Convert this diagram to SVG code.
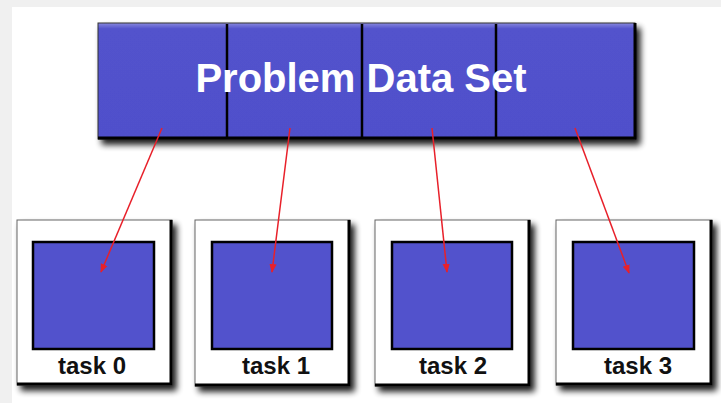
<svg xmlns="http://www.w3.org/2000/svg" width="721" height="403" viewBox="0 0 721 403">
<defs>
  <filter id="sh" x="-10%" y="-10%" width="130%" height="130%">
    <feGaussianBlur in="SourceAlpha" stdDeviation="3"/>
    <feOffset dx="4" dy="5" result="b"/>
    <feComponentTransfer><feFuncA type="linear" slope="0.9"/></feComponentTransfer>
    <feMerge><feMergeNode/><feMergeNode in="SourceGraphic"/></feMerge>
  </filter>
  <linearGradient id="barg" x1="0" y1="0" x2="0" y2="1">
    <stop offset="0" stop-color="#8888dd"/>
    <stop offset="0.05" stop-color="#5252cc"/>
    <stop offset="1" stop-color="#5050cb"/>
  </linearGradient>
  <marker id="ah" viewBox="0 0 10 10" refX="9" refY="5" markerWidth="9" markerHeight="9" markerUnits="userSpaceOnUse" orient="auto">
    <path d="M0,1 L10,5 L0,9 Z" fill="#e8202a"/>
  </marker>
  <style>
    .outer{fill:#ffffff;stroke:#666;stroke-width:1}
    .edge{stroke:#000;stroke-width:3;fill:none}
    .inner{fill:#5252cc;stroke:#000;stroke-width:2.5}
    .lbl{font-family:"Liberation Sans",Arial,sans-serif;font-weight:bold;font-size:24px;fill:#111;text-anchor:middle}
    .title{font-family:"Liberation Sans",Arial,sans-serif;font-weight:bold;font-size:40px;fill:#ffffff;text-anchor:middle}
    .arr{stroke:#e8202a;stroke-width:1.5;fill:none;marker-end:url(#ah)}
    .div{stroke:#000;stroke-width:2.5}
  </style>
</defs>
<rect x="0" y="0" width="721" height="403" fill="#f0f0f0"/>
<rect x="12" y="7" width="709" height="396" fill="#ffffff"/>

<g id="dataset">
  <g filter="url(#sh)">
    <rect x="98" y="23" width="537" height="116" fill="url(#barg)" stroke="#333" stroke-width="1"/>
    <path d="M98,138 H635 V23" class="edge"/>
  </g>
  <line x1="227" y1="24" x2="227" y2="137" class="div"/>
  <line x1="362" y1="24" x2="362" y2="137" class="div"/>
  <line x1="496" y1="24" x2="496" y2="137" class="div"/>
  <text x="361" y="92" class="title">Problem Data Set</text>
</g>

<g id="task0">
  <g filter="url(#sh)">
    <rect x="17" y="220" width="155" height="165" class="outer"/>
    <path d="M17,384 H171 V220" class="edge"/>
  </g>
  <rect x="33" y="242" width="121" height="107" class="inner"/>
  <text x="92" y="374" class="lbl">task 0</text>
</g>
<g id="task1">
  <g filter="url(#sh)">
    <rect x="195" y="220" width="155" height="166" class="outer"/>
    <path d="M195,385 H349 V220" class="edge"/>
  </g>
  <rect x="212" y="242" width="120" height="107" class="inner"/>
  <text x="276" y="374" class="lbl">task 1</text>
</g>
<g id="task2">
  <g filter="url(#sh)">
    <rect x="375" y="220" width="155" height="166" class="outer"/>
    <path d="M375,385 H529 V220" class="edge"/>
  </g>
  <rect x="392" y="242" width="120" height="107" class="inner"/>
  <text x="453" y="374" class="lbl">task 2</text>
</g>
<g id="task3">
  <g filter="url(#sh)">
    <rect x="556" y="220" width="156" height="165" class="outer"/>
    <path d="M556,384 H711 V220" class="edge"/>
  </g>
  <rect x="573" y="242" width="121" height="107" class="inner"/>
  <text x="638" y="374" class="lbl">task 3</text>
</g>

<g id="connectors">
  <line x1="162" y1="128" x2="101" y2="272" class="arr"/>
  <line x1="290" y1="128" x2="272" y2="272" class="arr"/>
  <line x1="432" y1="128" x2="447" y2="272" class="arr"/>
  <line x1="575" y1="128" x2="629" y2="273" class="arr"/>
</g>
</svg>
